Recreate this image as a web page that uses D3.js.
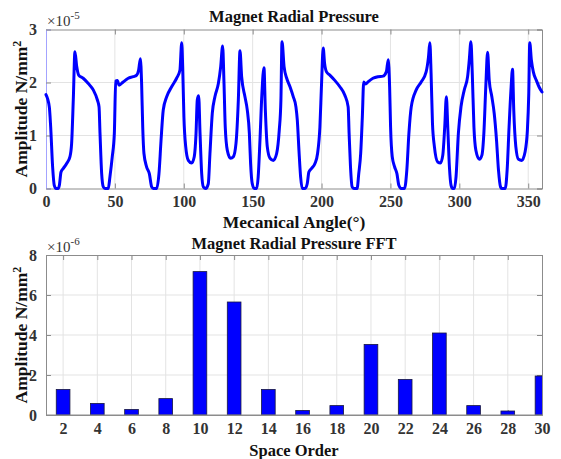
<!DOCTYPE html>
<html>
<head>
<meta charset="utf-8">
<script src="https://cdn.jsdelivr.net/npm/d3@7"></script>
<style>
  body { margin: 0; background: #fff; }
  text { font-family: "Liberation Serif", "Times New Roman", serif; }
</style>
</head>
<body>
<svg id="chart" width="561" height="459"></svg>
<script>
// ---------------- DATA ----------------
// Top chart: mechanical angle (deg) and radial pressure (x1e-5 N/mm^2)
const angleDeg = [
  0, 2.4, 3.4, 4.8, 6.0, 7.3, 9.0, 9.7, 10.9, 12.6, 15.0, 17.4, 18.6, 19.8, 21.0, 22.3, 23.7, 27.0, 30.7, 34.3,
  37.3, 38.5, 39.2, 40.4, 41.6, 42.8, 45.2, 46.4, 48.1, 49.6, 50.6, 51.8, 53.0, 56.0, 59.7, 63.4, 65.8, 67.2, 68.5, 69.4,
  70.2, 71.1, 73.0, 75.0, 76.7, 77.9, 80.3, 82.0, 83.5, 85.1, 87.6, 91.2, 94.8, 97.2, 98.5, 99.2, 100.1, 101.4, 103.3, 105.7,
  107.6, 108.9, 109.8, 110.8, 111.8, 113.0, 114.2, 115.9, 117.8, 119.0, 120.7, 122.6, 125.1, 126.8, 128.2, 129.2, 130.1, 131.6, 134.0, 136.0,
  137.9, 139.6, 140.8, 142.0, 144.4, 146.1, 147.6, 148.5, 149.7, 151.2, 152.9, 154.0, 155.3, 156.7, 158.2, 159.2, 160.6, 162.6, 165.0, 167.4,
  169.3, 170.5, 171.3, 172.8, 174.7, 177.1, 179.5, 181.4, 182.4, 183.6, 184.8, 186.0, 188.0, 189.6, 190.8, 192.8, 195.2, 197.1, 198.8, 200.0,
  201.2, 202.2, 203.6, 206.0, 209.6, 213.3, 216.9, 219.3, 220.0, 221.0, 222.2, 223.4, 225.8, 227.0, 228.4, 229.6, 230.6, 232.0, 233.7, 237.3,
  241.0, 244.6, 247.0, 248.4, 249.4, 250.1, 251.3, 253.0, 254.7, 256.1, 257.8, 260.2, 261.9, 263.4, 265.1, 268.7, 272.3, 275.9, 277.6, 278.6,
  279.5, 280.5, 281.9, 284.3, 286.3, 288.0, 289.4, 290.6, 291.6, 292.8, 294.0, 295.2, 296.4, 297.6, 299.3, 301.2, 303.6, 306.0, 307.2, 308.4,
  309.4, 310.6, 312.0, 314.5, 316.4, 317.8, 319.3, 320.5, 321.7, 323.6, 325.3, 327.0, 328.4, 329.9, 330.8, 333.3, 334.7, 336.1, 337.6, 338.6,
  339.5, 341.0, 342.9, 345.3, 347.7, 349.4, 350.4, 351.1, 352.3, 353.7, 355.9, 357.8, 360
];
const pressure = [
  1.77, 1.54, 1.16, 0.41, 0.06, 0.00, 0.00, 0.06, 0.31, 0.38, 0.47, 0.60, 0.85, 1.67, 2.58, 2.30, 2.14, 2.08, 1.98, 1.86,
  1.67, 1.54, 1.04, 0.28, 0.03, 0.00, 0.00, 0.22, 0.60, 1.04, 2.03, 2.04, 1.95, 2.01, 2.08, 2.11, 2.14, 2.23, 2.45, 1.98,
  1.16, 0.66, 0.41, 0.28, 0.03, 0.00, 0.00, 0.28, 0.91, 1.48, 1.73, 1.92, 2.08, 2.23, 2.75, 2.30, 1.35, 0.79, 0.53, 0.48,
  0.60, 1.04, 1.67, 1.75, 1.04, 0.28, 0.03, 0.00, 0.09, 0.66, 1.42, 1.73, 1.98, 2.30, 2.69, 1.98, 1.16, 0.72, 0.57, 0.60,
  0.85, 1.67, 2.60, 2.11, 1.73, 1.48, 1.04, 0.47, 0.09, 0.00, 0.00, 0.22, 0.91, 1.79, 2.28, 1.48, 0.79, 0.57, 0.53, 0.66,
  1.10, 1.67, 2.77, 2.30, 2.08, 1.92, 1.73, 1.54, 1.29, 0.72, 0.22, 0.00, 0.00, 0.09, 0.31, 0.38, 0.47, 0.66, 1.16, 1.98,
  2.65, 2.36, 2.20, 2.14, 2.04, 1.92, 1.76, 1.54, 1.04, 0.41, 0.03, 0.00, 0.00, 0.28, 0.66, 1.35, 2.01, 1.97, 2.01, 2.08,
  2.11, 2.12, 2.20, 2.43, 1.92, 1.16, 0.60, 0.41, 0.28, 0.06, 0.00, 0.00, 0.35, 1.04, 1.54, 1.86, 2.01, 2.20, 2.48, 2.75,
  2.17, 1.23, 0.79, 0.50, 0.48, 0.63, 1.16, 1.73, 1.16, 0.41, 0.06, 0.00, 0.00, 0.22, 1.04, 1.54, 1.86, 2.11, 2.42, 2.77,
  2.17, 1.16, 0.72, 0.55, 0.63, 1.04, 1.98, 2.57, 2.04, 1.73, 1.42, 0.91, 0.35, 0.03, 0.00, 0.00, 0.35, 1.16, 1.92, 2.25,
  1.48, 0.79, 0.55, 0.53, 0.69, 1.10, 1.79, 2.75, 2.42, 2.20, 2.04, 1.92, 1.82
];
const topXTicks = [0, 50, 100, 150, 200, 250, 300, 350];
const topYTicks = [0, 1, 2, 3];

// Bottom chart: space order and FFT amplitude (x1e-6 N/mm^2)
const spaceOrder = [2, 4, 6, 8, 10, 12, 14, 16, 18, 20, 22, 24, 26, 28, 30];
const fftAmp = [1.28, 0.58, 0.28, 0.82, 7.17, 5.65, 1.28, 0.23, 0.47, 3.53, 1.78, 4.10, 0.47, 0.20, 1.95];
const botXTicks = [2, 4, 6, 8, 10, 12, 14, 16, 18, 20, 22, 24, 26, 28, 30];
const botYTicks = [0, 2, 4, 6, 8];

const titles = ["Magnet Radial Pressure", "Magnet Radial Pressure FFT"];
const xLabels = ["Mecanical Angle(°)", "Space Order"];
const yLabel = "Amplitude N/mm";
const exponents = ["-5", "-6"];

// ---------------- DRAW ----------------
const svg = d3.select("#chart");
const FONT_TICK = 16, FONT_TITLE = 16.5;
const boxColor = "#8c8c8c", gridColor = "#e3e3e3", tickText = "#333";

function panel(cfg) {
  const g = svg.append("g");
  const { x, y, left, right, top, bottom, xTicks, yTicks, xPad } = cfg;

  // grid
  g.append("g").selectAll("line").data(xTicks.filter(t => x(t) > left + 1 && x(t) < right - 1)).join("line")
    .attr("x1", d => x(d)).attr("x2", d => x(d)).attr("y1", top).attr("y2", bottom)
    .attr("stroke", gridColor).attr("stroke-width", 1);
  g.append("g").selectAll("line").data(yTicks.filter(t => y(t) > top + 1 && y(t) < bottom - 1)).join("line")
    .attr("y1", d => y(d)).attr("y2", d => y(d)).attr("x1", left).attr("x2", right)
    .attr("stroke", gridColor).attr("stroke-width", 1);

  // axes (inner ticks)
  const axB = d3.axisBottom(x).tickValues(xTicks).tickSize(-5).tickPadding(xPad).tickFormat(d3.format("d"));
  const axT = d3.axisTop(x).tickValues(xTicks).tickSize(-5).tickFormat("");
  const axL = d3.axisLeft(y).tickValues(yTicks).tickSize(-5).tickPadding(9).tickFormat(d3.format("d"));
  const axR = d3.axisRight(y).tickValues(yTicks).tickSize(-5).tickFormat("");

  const gB = g.append("g").attr("transform", `translate(0,${bottom})`).call(axB);
  const gT = g.append("g").attr("transform", `translate(0,${top})`).call(axT);
  const gL = g.append("g").attr("transform", `translate(${left},0)`).call(axL);
  const gR = g.append("g").attr("transform", `translate(${right},0)`).call(axR);
  [gB, gT, gL, gR].forEach(a => {
    a.select(".domain").attr("stroke", boxColor).attr("stroke-width", 1);
    a.selectAll(".tick line").attr("stroke", boxColor);
    a.selectAll(".tick text").attr("fill", tickText)
      .style("font-family", '"Liberation Serif", serif')
      .style("font-weight", "bold").style("font-size", FONT_TICK + "px");
  });
  return { g, gL };
}

// ---- Top panel ----
const T = { left: 46, right: 542, top: 29.5, bottom: 188.5 };
const xTop = d3.scaleLinear().domain([0, 360]).range([T.left, T.right]);
const yTop = d3.scaleLinear().domain([0, 3]).range([T.bottom, T.top]);
const topPanel = panel({ x: xTop, y: yTop, ...T, xTicks: topXTicks, yTicks: topYTicks, xPad: 7 });
topPanel.gL.select(".domain").attr("stroke", "#a3a3ff");

const pts = angleDeg.map((a, i) => [a, pressure[i]]);
const line = d3.line().x(d => xTop(d[0])).y(d => yTop(d[1])).curve(d3.curveMonotoneX);
svg.append("path").datum(pts)
  .attr("d", line)
  .attr("fill", "none").attr("stroke", "#0000ff").attr("stroke-width", 3)
  .attr("stroke-linejoin", "round").attr("stroke-linecap", "round");

// ---- Bottom panel ----
const B = { left: 46, right: 542, top: 255, bottom: 415 };
const xBot = d3.scaleLinear().domain([1, 30]).range([B.left, B.right]);
const yBot = d3.scaleLinear().domain([0, 8]).range([B.bottom, B.top]);
svg.append("clipPath").attr("id", "clipBot")
  .append("rect").attr("x", B.left).attr("y", B.top)
  .attr("width", B.right - B.left).attr("height", B.bottom - B.top);
panel({ x: xBot, y: yBot, ...B, xTicks: botXTicks, yTicks: botYTicks, xPad: 8 });

svg.append("g").attr("clip-path", "url(#clipBot)")
  .selectAll("rect").data(spaceOrder.map((o, i) => ({ o, v: fftAmp[i] }))).join("rect")
  .attr("x", d => xBot(d.o - 0.4))
  .attr("width", d => xBot(d.o + 0.4) - xBot(d.o - 0.4))
  .attr("y", d => yBot(d.v))
  .attr("height", d => yBot(0) - yBot(d.v))
  .attr("fill", "#0000ff").attr("stroke", "#1a1a40").attr("stroke-width", 0.8);

svg.append("line").attr("x1", B.left).attr("x2", B.right).attr("y1", B.bottom).attr("y2", B.bottom)
  .attr("stroke", boxColor).attr("stroke-width", 1);

// ---- Texts ----
function boldText(x, y, size, rotate) {
  const t = svg.append("text")
    .attr("text-anchor", "middle")
    .attr("font-weight", "bold")
    .attr("font-size", size)
    .attr("fill", "#111");
  if (rotate) t.attr("transform", `translate(${x},${y}) rotate(-90)`);
  else t.attr("x", x).attr("y", y);
  return t;
}
boldText(294, 22, FONT_TITLE).text(titles[0]);
boldText(294, 248.5, FONT_TITLE).text(titles[1]);
boldText(294, 228, 17.5).text(xLabels[0]);
boldText(294, 455.5, 16.5).text(xLabels[1]);

[[27, (T.top + T.bottom) / 2], [27, (B.top + B.bottom) / 2]].forEach(([x, y]) => {
  const t = boldText(x, y, 17.5, true);
  t.append("tspan").text(yLabel);
  t.append("tspan").attr("dy", -6).attr("font-size", 12).text("2");
});

[[47, 25.5, 0], [47, 251.5, 1]].forEach(([x, y, i]) => {
  const t = svg.append("text").attr("x", x).attr("y", y)
    .attr("font-size", 15).attr("fill", "#333");
  t.append("tspan").text("×10");
  t.append("tspan").attr("dy", -7).attr("font-size", 11).text(exponents[i]);
});
</script>
</body>
</html>
